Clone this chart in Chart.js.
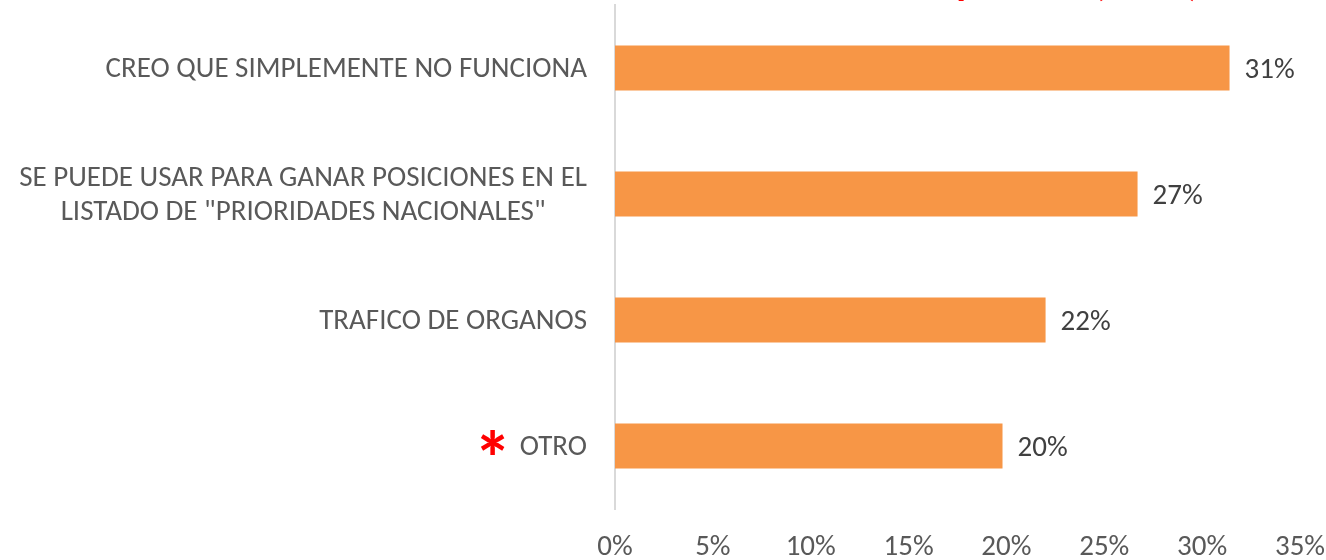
<!DOCTYPE html>
<html>
<head>
<meta charset="utf-8">
<script src="https://cdn.jsdelivr.net/npm/chart.js@4"></script>
<style>
html,body{margin:0;padding:0;background:#fff;}
#wrap{width:1326px;height:560px;position:relative;}
</style>
</head>
<body>
<div id="wrap"><canvas id="chart" width="1326" height="560"></canvas></div>
<script>
const categories = [
  ["CREO QUE SIMPLEMENTE NO FUNCIONA"],
  ["SE PUEDE USAR PARA GANAR POSICIONES EN EL", "LISTADO DE \"PRIORIDADES NACIONALES\""],
  ["TRAFICO DE ORGANOS"],
  ["OTRO"]
];
const values = [31.4, 26.7, 22.0, 19.8];
const valueLabels = ["31%", "27%", "22%", "20%"];
const markedCategory = 3;
const titleText = "Respuestas (n=45)";

const FONT = "Carlito, Lato, 'Open Sans', sans-serif";

// labels on the left, drawn from the y scale positions
const leftLabels = {
  id: "leftLabels",
  afterDraw(chart){
    const ctx = chart.ctx;
    const y = chart.scales.y;
    ctx.save();
    ctx.font = "29px " + FONT;
    ctx.fillStyle = "#595959";
    ctx.textBaseline = "middle";
    categories.forEach((lines, i) => {
      const cy = y.getPixelForValue(i) + 2;
      const widths = lines.map(l => ctx.measureText(l).width);
      const w = Math.max(...widths);
      const right = 587;
      const lh = 34;
      lines.forEach((l, j) => {
        const ly = cy + (j - (lines.length - 1) / 2) * lh;
        ctx.textAlign = "center";
        ctx.fillText(l, right - w / 2, ly);
      });
      if(i === markedCategory){
        ctx.save();
        ctx.font = "bold 76px " + FONT;
        ctx.fillStyle = "#ff0000";
        ctx.textAlign = "center";
        ctx.textBaseline = "alphabetic";
        ctx.fillText("*", right - w - 27, cy + 37);
        ctx.restore();
      }
    });
    // value labels at bar ends
    const meta = chart.getDatasetMeta(0);
    ctx.fillStyle = "#404040";
    ctx.textAlign = "left";
    meta.data.forEach((bar, i) => {
      ctx.fillText(valueLabels[i], bar.x + 15, bar.y + 3);
    });
    // title, mostly above the visible area
    ctx.font = "bold 40px " + FONT;
    ctx.fillStyle = "#ff0000";
    ctx.textAlign = "right";
    ctx.textBaseline = "alphabetic";
    ctx.fillText(titleText, 1200, -5);
    ctx.restore();
  }
};

new Chart(document.getElementById("chart"), {
  type: "bar",
  data: {
    labels: categories.map(c => c.join(" ")),
    datasets: [{
      data: values,
      backgroundColor: "#F79646",
      borderWidth: 0,
      categoryPercentage: 1,
      barPercentage: 0.357
    }]
  },
  options: {
    indexAxis: "y",
    responsive: false,
    animation: false,
    devicePixelRatio: 1,
    layout: {padding: {left: 607, right: 26, top: 5, bottom: 0}},
    plugins: {legend: {display: false}, tooltip: {enabled: false}},
    scales: {
      x: {
        min: 0, max: 35,
        grid: {display: false},
        border: {display: false},
        afterFit: s => { s.height = 51; s.paddingRight = 0; s.paddingLeft = 0; },
        ticks: {
          stepSize: 5,
          padding: 16,
          color: "#595959",
          font: {family: FONT, size: 29, lineHeight: 1},
          callback: v => v + "%"
        }
      },
      y: {
        grid: {display: false},
        border: {display: true, color: "#d9d9d9", width: 2},
        ticks: {display: false}
      }
    }
  },
  plugins: [leftLabels]
});
</script>
</body>
</html>
